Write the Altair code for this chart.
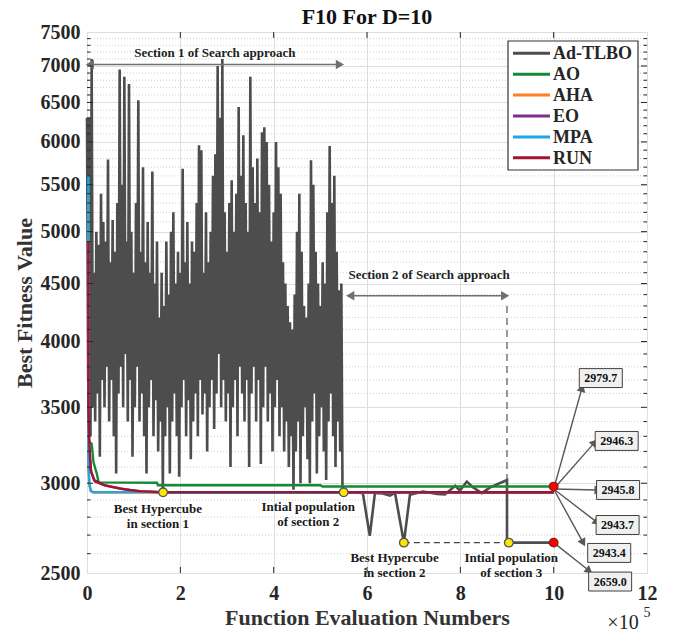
import math
import altair as alt
import pandas as pd

FONT = "Liberation Serif"

series_names = ["Ad-TLBO", "AO", "AHA", "EO", "MPA", "RUN"]
series_colors = ["#4d4d4d", "#138a36", "#ff7f27", "#7e2f8e", "#1ba7e8", "#a2142f"]

# Ad-TLBO, section 1: peaks (every 0.05e5 FE) and troughs (offset by 0.025e5 FE)
tlbo_s1_highs = [6300, 6300, 7100, 4600, 5000, 4870, 5400, 5100, 4900, 5790,
                 4700, 5120, 4800, 5300, 6950, 5500, 6850, 4900, 6750, 5000,
                 4600, 5300, 6530, 4800, 5700, 4700, 5100, 4600, 5650, 4500,
                 4900, 4200, 4600, 4300, 4900, 4400, 5000, 5200, 4500, 4800,
                 4600, 5680, 4700, 5100, 4500, 4900, 4800, 5300, 5960, 5900,
                 4600, 5200, 4700, 5000, 5600, 5850, 7000, 6300, 7100, 5200,
                 4800, 5300, 5550, 5000, 5400, 6440, 5600, 6080, 5300, 5000,
                 6850, 5700, 5300, 5800, 5200, 6120, 6180, 6000, 5500, 4900,
                 5200, 6000, 5700, 5400, 4700, 4500, 4300, 4160, 4100, 4400,
                 5000, 5400, 4800, 4300, 4200, 4500, 5780, 5500, 4800, 4500,
                 4300, 4700, 4500, 5200, 5950, 5300, 5600, 4800, 4440, 4500]
tlbo_s1_lows = [3700, 3300, 3500, 3400, 3600, 3165, 3700, 3500, 3800, 3400,
                3700, 3300, 3060, 3600, 3800, 3500, 3900, 3400, 3700, 3165,
                3500, 3800, 3400, 3600, 3300, 3060, 3500, 3700, 3300, 3550,
                3200, 3400, 2950, 3300, 3500, 3060, 3400, 3600, 3300, 3040,
                3500, 3700, 3300, 3550, 3150, 3400, 3600, 3300, 3700, 3450,
                3600, 3200, 3500, 3700, 3350, 3600, 3900, 3500, 3700, 3400,
                3600, 3100, 3500, 3700, 3300, 3800, 3600, 3400, 3700, 3100,
                3600, 3800, 3400, 3700, 3120, 3500, 3800, 3400, 3600, 3200,
                3500, 3700, 3300, 3500, 3200, 3400, 3100, 3300, 2960, 3200,
                3400, 3000, 3300, 3500, 3150, 3000, 3400, 3600, 3060, 3300,
                3500, 3200, 3020, 3400, 3600, 3300, 3100, 3400, 3200, 2950]
# Ad-TLBO, sections 2 and 3
tlbo_s2_x = [5.5, 5.91, 6.06, 6.17, 6.34, 6.49, 6.6, 6.79, 6.92, 7.2, 7.5,
             7.67, 7.89, 7.99, 8.14, 8.27, 8.46, 8.64, 9.0, 9.0, 10.0]
tlbo_s2_y = [2945, 2942, 2696, 2942, 2938, 2925, 2942, 2659, 2930, 2950, 2935,
             2932, 2985, 2955, 3010, 2975, 2940, 2975, 3020, 2659, 2659]

ao_x = [0.03, 0.05, 0.10, 0.14, 0.21, 0.25, 1.50, 1.52, 5.00, 5.05, 10.0]
ao_y = [3260, 3264, 3250, 3130, 3058, 3005, 3003, 2988, 2988, 2979.7, 2979.7]
aha_x = [0.03, 0.03, 0.05, 0.08, 0.14, 10.0]
aha_y = [5400, 3100, 2990, 2952, 2943.7, 2943.7]
eo_x = [0.03, 0.03, 0.05, 0.09, 0.17, 0.4, 0.8, 1.2, 1.7, 10.0]
eo_y = [4700, 3450, 3220, 3070, 3010, 2985, 2963, 2950, 2944, 2943.4]
mpa_x = [0.03, 0.03, 0.05, 0.08, 0.13, 10.0]
mpa_y = [5600, 3150, 3000, 2955, 2946.3, 2946.3]
run_x = [0.03, 0.03, 0.05, 0.08, 0.15, 0.35, 0.70, 1.10, 1.60, 10.0]
run_y = [4900, 3500, 3250, 3080, 3020, 2990, 2968, 2952, 2946, 2945.8]

yellow_x = [1.63, 5.5, 6.79, 9.04]
yellow_y = [2945, 2945, 2659, 2659]
red_x = [10.0, 10.0]
red_y = [2979.7, 2659]

point_labels = ["Best Hypercube\nin section 1", "Intial population\nof  section 2",
                "Best Hypercube\nin section 2", "Intial population\nof  section 3"]
point_label_x = [1.52, 4.74, 6.59, 9.09]
point_label_y = [2804, 2821, 2541, 2543]

final_labels = ["2979.7", "2946.3", "2945.8", "2943.7", "2943.4", "2659.0"]
box_x = [11.01, 11.35, 11.38, 11.37, 11.19, 11.21]
box_y = [3714, 3269, 2959, 2756, 2604, 2457]
arrow_from_x = [10.0, 10.0, 10.0, 10.0, 10.0, 10.0]
arrow_from_y = [2965, 2965, 2965, 2965, 2965, 2659]
arrow_to_x = [10.6, 10.86, 10.93, 10.91, 10.62, 10.74]
arrow_to_y = [3631, 3253, 2959, 2775, 2664, 2515]

section_labels = ["Section 1 of Search approach", "Section 2 of Search approach"]
section_x1 = [0.06, 5.64]
section_x2 = [5.42, 8.96]
section_y = [7020, 4390]
section_text_x = [2.74, 7.33]
section_text_y = [7190, 4580]

x_ticks = [0, 2, 4, 6, 8, 10, 12]
y_ticks = [2500, 3000, 3500, 4000, 4500, 5000, 5500, 6000, 6500, 7000, 7500]
y_minor = [v for v in range(2600, 7500, 100) if v % 500 != 0]

W, H = 560, 541
XMAX = 12.0
YMIN, YMAX = 2500.0, 7500.0


def px(x):
    return x / XMAX * W


def py(v):
    return H * (1 - math.log(v / YMIN) / math.log(YMAX / YMIN))


# ---------------- data frames ----------------
rows = []
idx = 0
for i, (hv, lv) in enumerate(zip(tlbo_s1_highs, tlbo_s1_lows)):
    rows.append(("Ad-TLBO", round(0.05 * i, 3), hv, idx)); idx += 1
    rows.append(("Ad-TLBO", round(0.05 * i + 0.025, 3), lv, idx)); idx += 1
for xv, yv in zip(tlbo_s2_x, tlbo_s2_y):
    rows.append(("Ad-TLBO", xv, yv, idx)); idx += 1
for name, xs, ys in [("AO", ao_x, ao_y), ("AHA", aha_x, aha_y), ("EO", eo_x, eo_y),
                     ("MPA", mpa_x, mpa_y), ("RUN", run_x, run_y)]:
    for xv, yv in zip(xs, ys):
        rows.append((name, xv, yv, idx)); idx += 1
lines_df = pd.DataFrame(rows, columns=["series", "x", "y", "idx"])

x_scale = alt.Scale(domain=[0, XMAX], nice=False, zero=False)
y_scale = alt.Scale(type="log", domain=[YMIN, YMAX], nice=False)

x_axis = alt.Axis(values=x_ticks, format="d", grid=True, gridColor="#dedede", gridWidth=1,
                  ticks=False, domain=False, labelFont=FONT, labelFontSize=20,
                  labelFontWeight="bold", labelColor="#262626", labelPadding=10,
                  labelFlush=False, title="Function Evaluation Numbers", titleFont=FONT,
                  titleFontSize=22, titleFontWeight="bold", titleColor="#333333",
                  titlePadding=4)
y_axis = alt.Axis(values=y_ticks, format="d", grid=True, gridColor="#dedede", gridWidth=1,
                  ticks=False, domain=False, labelFont=FONT, labelFontSize=20,
                  labelFontWeight="bold", labelColor="#262626", labelPadding=7,
                  labelFlush=False, title="Best Fitness Value", titleFont=FONT,
                  titleFontSize=22, titleFontWeight="bold", titleColor="#333333",
                  titlePadding=4)

X = alt.X("x:Q", scale=x_scale, axis=x_axis)
Y = alt.Y("y:Q", scale=y_scale, axis=y_axis)

color = alt.Color("series:N", scale=alt.Scale(domain=series_names, range=series_colors),
                  legend=None)

layers = []

# minor dotted gridlines
minor_df = pd.DataFrame({"y": y_minor})
layers.append(alt.Chart(minor_df).mark_rule(color="#cfcfcf", strokeWidth=1,
                                             strokeDash=[1, 2]).encode(y=Y))

# series lines
for name in series_names:
    sub = lines_df[lines_df.series == name]
    sw = 2.6 if name == "Ad-TLBO" else 2.4
    layers.append(alt.Chart(sub).mark_line(strokeWidth=sw, clip=False).encode(
        x=X, y=Y, color=color, order="idx:Q"))

# dashed connectors between highlighted points
dash_df = pd.DataFrame({"x": [yellow_x[0], yellow_x[2]], "x2": [yellow_x[1], yellow_x[3]],
                        "y": [yellow_y[0], yellow_y[2]]})
layers.append(alt.Chart(dash_df).mark_rule(color="#444444", strokeWidth=1.3,
                                           strokeDash=[6, 4]).encode(
    x=X, x2="x2:Q", y=Y))

# vertical dashed line at end of section 2
vdash_df = pd.DataFrame({"x": [tlbo_s2_x[-3]], "y": [section_y[1] - 90], "y2": [tlbo_s2_y[-3]]})
layers.append(alt.Chart(vdash_df).mark_rule(color="#555555", strokeWidth=1.2,
                                            strokeDash=[7, 5]).encode(
    x=X, y=Y, y2="y2:Q"))

# section arrows
sec_df = pd.DataFrame({"x": section_x1, "x2": section_x2, "y": section_y,
                       "label": section_labels, "tx": section_text_x, "ty": section_text_y})
layers.append(alt.Chart(sec_df).mark_rule(color="#707070", strokeWidth=1.4).encode(
    x=X, x2="x2:Q", y=Y))
layers.append(alt.Chart(sec_df).mark_point(shape="triangle-left", filled=True, size=90,
                                           color="#707070", opacity=1).encode(x=X, y=Y))
layers.append(alt.Chart(sec_df).mark_point(shape="triangle-right", filled=True, size=90,
                                           color="#707070", opacity=1).encode(
    x=alt.X("x2:Q", scale=x_scale, axis=x_axis), y=Y))
layers.append(alt.Chart(sec_df).mark_text(font=FONT, fontSize=13, fontWeight="bold",
                                          color="#222222").encode(
    x=alt.X("tx:Q", scale=x_scale, axis=x_axis),
    y=alt.Y("ty:Q", scale=y_scale, axis=y_axis), text="label:N"))

# annotation arrows to the final-value boxes
arr_rows = []
for fx, fy, tx, ty in zip(arrow_from_x, arrow_from_y, arrow_to_x, arrow_to_y):
    dx = px(tx) - px(fx)
    dy = py(ty) - py(fy)
    ang = math.degrees(math.atan2(dx, -dy)) % 360
    arr_rows.append((fx, fy, tx, ty, ang))
arr_df = pd.DataFrame(arr_rows, columns=["x", "y", "x2", "y2", "angle"])
layers.append(alt.Chart(arr_df).mark_rule(color="#595959", strokeWidth=1.4, clip=False).encode(
    x=X, y=Y, x2="x2:Q", y2="y2:Q"))
layers.append(alt.Chart(arr_df).mark_point(shape="triangle", filled=True, size=80,
                                           color="#595959", opacity=1, clip=False).encode(
    x=alt.X("x2:Q", scale=x_scale, axis=x_axis),
    y=alt.Y("y2:Q", scale=y_scale, axis=y_axis),
    angle=alt.Angle("angle:Q", scale=None)))

box_df = pd.DataFrame({"x": box_x, "y": box_y, "label": final_labels})
layers.append(alt.Chart(box_df).mark_point(
    shape="M-1,-0.44L1,-0.44L1,0.44L-1,0.44Z", filled=True, size=1850,
    fill="#f0f0f0", stroke="#404040", strokeWidth=1, opacity=1, clip=False).encode(x=X, y=Y))
layers.append(alt.Chart(box_df).mark_text(font=FONT, fontSize=12, fontWeight="bold",
                                          color="#111111", clip=False).encode(
    x=X, y=Y, text="label:N"))

# highlighted points
pts_df = pd.DataFrame({"x": yellow_x, "y": yellow_y})
layers.append(alt.Chart(pts_df).mark_point(filled=True, size=75, fill="#ffe600",
                                           stroke="#555555", strokeWidth=1.3,
                                           opacity=1).encode(x=X, y=Y))
red_df = pd.DataFrame({"x": red_x, "y": red_y})
layers.append(alt.Chart(red_df).mark_point(filled=True, size=75, fill="#ff0000",
                                           stroke="#8a1a1a", strokeWidth=1.2,
                                           opacity=1).encode(x=X, y=Y))

# point labels
lab_df = pd.DataFrame({"x": point_label_x, "y": point_label_y, "label": point_labels})
layers.append(alt.Chart(lab_df).mark_text(font=FONT, fontSize=13, fontWeight="bold",
                                          color="#1a1a1a", lineBreak="\n", lineHeight=15,
                                          dy=-7, clip=False).encode(x=X, y=Y, text="label:N"))

# inward ticks (MATLAB style)
xt_df = pd.DataFrame({"x": x_ticks[1:-1]})
layers.append(alt.Chart(xt_df).mark_rule(color="#262626").encode(
    x=X, y=alt.value(H), y2=alt.value(H - 6)))
layers.append(alt.Chart(xt_df).mark_rule(color="#262626").encode(
    x=X, y=alt.value(0), y2=alt.value(6)))
yt_df = pd.DataFrame({"y": y_ticks[1:-1]})
layers.append(alt.Chart(yt_df).mark_rule(color="#262626").encode(
    y=Y, x=alt.value(0), x2=alt.value(6)))
layers.append(alt.Chart(yt_df).mark_rule(color="#262626").encode(
    y=Y, x=alt.value(W), x2=alt.value(W - 6)))
layers.append(alt.Chart(minor_df).mark_rule(color="#262626").encode(
    y=Y, x=alt.value(0), x2=alt.value(3.5)))
layers.append(alt.Chart(minor_df).mark_rule(color="#262626").encode(
    y=Y, x=alt.value(W), x2=alt.value(W - 3.5)))

# legend (drawn as marks, MATLAB style box in the upper right)
one_df = pd.DataFrame({"k": [0]})
LX0, LX1, LY0, LY1 = 421, 551, 9, 138
layers.append(alt.Chart(one_df).mark_rect(fill="white", stroke="#333333", strokeWidth=1.2).encode(
    x=alt.value(LX0), x2=alt.value(LX1), y=alt.value(LY0), y2=alt.value(LY1)))
for i, (name, col) in enumerate(zip(series_names, series_colors)):
    ry = 21.3 + 20.9 * i
    ent_df = pd.DataFrame({"name": [name]})
    layers.append(alt.Chart(ent_df).mark_rule(color=col, strokeWidth=3).encode(
        x=alt.value(426), x2=alt.value(463), y=alt.value(ry)))
    layers.append(alt.Chart(ent_df).mark_text(font=FONT, fontSize=18, fontWeight="bold",
                                              color="#262626", align="left",
                                              baseline="middle").encode(
        x=alt.value(466), y=alt.value(ry + 1), text="name:N"))

# chart title
title_df = pd.DataFrame({"t": ["F10 For D=10"]})
layers.append(alt.Chart(title_df).mark_text(font=FONT, fontSize=22, fontWeight="bold",
                                            color="#111111", baseline="middle",
                                            clip=False).encode(
    x=alt.value(W / 2), y=alt.value(-15), text="t:N"))

# x10^5 multiplier
mult_df = pd.DataFrame({"t": ["×10"]})
layers.append(alt.Chart(mult_df).mark_text(font=FONT, fontSize=20, color="#262626",
                                           clip=False).encode(
    x=alt.value(536), y=alt.value(591), text="t:N"))
exp_df = pd.DataFrame({"t": ["5"]})
layers.append(alt.Chart(exp_df).mark_text(font=FONT, fontSize=14, color="#262626",
                                          clip=False).encode(
    x=alt.value(560), y=alt.value(581), text="t:N"))

chart = alt.layer(*layers).properties(
    width=W, height=H,
    autosize=alt.AutoSizeParams(type="none"),
    padding={"left": 87, "top": 32, "right": 27, "bottom": 60},
).configure_view(stroke="#262626", strokeWidth=1).configure(background="white")

chart.save("out.html", embed_options={"renderer": "svg", "actions": False})
